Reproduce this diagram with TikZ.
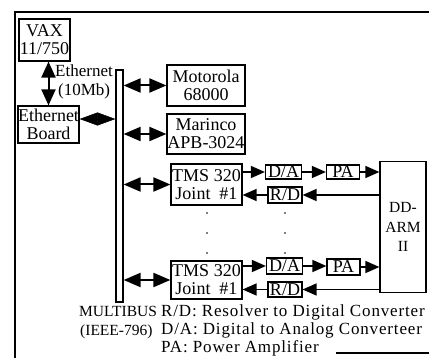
\documentclass[tikz,border=0pt]{standalone}
\usepackage{fontspec}
\setmainfont{Liberation Serif}
\usetikzlibrary{arrows.meta}
\begin{document}
\begin{tikzpicture}[x=1pt,y=-1pt,
  every node/.style={font=\fontsize{18}{18}\selectfont},
  box/.style={draw,line width=1.2pt,inner sep=0pt,align=center},
  big/.style={line width=2pt,{Triangle[length=17pt,width=14pt]}-{Triangle[length=17pt,width=14pt]}},
  vbig/.style={line width=2pt,{Triangle[length=16pt,width=14pt]}-{Triangle[length=16pt,width=14pt]}},
  dia/.style={line width=0.5pt,{Triangle[length=18pt,width=13pt]}-{Triangle[length=18pt,width=13pt]}},
  sa/.style={line width=1.4pt,-{Triangle[length=14pt,width=12pt]}},
  lbl/.style={inner sep=0pt,anchor=base west,font=\fontsize{17}{17}\selectfont\addfontfeature{LetterSpace=5}},
  dotc/.style={fill,circle,inner sep=0pt,minimum size=1.8pt}]
\useasboundingbox (0,0) rectangle (429,358);
% frame
\draw[line width=1.3pt] (429,12) -- (15,12) -- (15,358);
\draw[line width=1.3pt] (336,353) -- (429,353);
% nodes
\node[box,minimum width=51pt,minimum height=42pt] (vax) at (44.5,40) {VAX\\11/750};
\node[box,minimum width=61pt,minimum height=37pt] (eb) at (48.5,124.5) {Ethernet\\Board};
\node[draw,line width=1.2pt,inner sep=0pt,minimum width=7pt,minimum height=232pt] (bus) at (119.5,186) {};
\node[box,minimum width=78pt,minimum height=41pt] (mot) at (206,85.5) {Motorola\\68000};
\node[box,minimum width=78pt,minimum height=40pt] (mar) at (206,134) {Marinco\\APB-3024};
\node[box,minimum width=71pt,minimum height=41pt] (tms1) at (206.5,184.5) {TMS 320\\Joint\ \ \#1};
\node[box,minimum width=71pt,minimum height=38pt] (tms2) at (206.5,280) {TMS 320\\Joint\ \ \#1};
\node[box,minimum width=36pt,minimum height=14pt] (da1) at (283.5,172) {D/A};
\node[box,minimum width=34pt,minimum height=16pt] (rd1) at (285,195) {R/D};
\node[box,minimum width=33pt,minimum height=14pt] (pa1) at (343,172) {PA};
\node[box,minimum width=36pt,minimum height=16pt] (da2) at (284.5,266) {D/A};
\node[box,minimum width=34pt,minimum height=15pt] (rd2) at (285,289.5) {R/D};
\node[box,minimum width=33pt,minimum height=16pt] (pa2) at (343.5,267) {PA};
\node[box,minimum width=46pt,minimum height=131pt,font=\fontsize{15.5}{19.5}\selectfont] (arm) at (403,227) {DD-\\ARM\\II};
% labels
\node[lbl,font=\fontsize{17}{17}\selectfont] (eth) at (55,77) {Ethernet};
\node[lbl,font=\fontsize{17}{17}\selectfont] (mb) at (58,96) {(10Mb)};
\node[lbl,font=\fontsize{15.5}{17}\selectfont] (l1) at (79,317) {MULTIBUS};
\node[lbl,font=\fontsize{15.5}{17}\selectfont] (l2) at (80,336) {(IEEE-796)};
\node[lbl] (l3) at (161,317) {R/D: Resolver to Digital Converter};
\node[lbl] (l4) at (161,335) {D/A: Digital to Analog Converteer};
\node[lbl] (l5) at (161,353) {PA: Power Amplifier};
% connectors
\draw[vbig] (eb.north |- vax.south) -- (eb.north);
\draw[dia] ([yshift=5.5pt]eb.east) -- ([yshift=5.5pt]eb.east -| bus.west);
\draw[big] (bus.east |- mot.west) -- (mot.west);
\draw[big] (bus.east |- mar.west) -- (mar.west);
\draw[big] (bus.east |- tms1.west) -- (tms1.west);
\draw[big] (bus.east |- tms2.west) -- (tms2.west);
\foreach \t/\d/\r/\p in {tms1/da1/rd1/pa1, tms2/da2/rd2/pa2}{
  \draw[sa] (\t.east |- \d.west) -- (\d.west);
  \draw[sa] (\d.east) -- (\p.west |- \d.east);
  \draw[sa] (\p.east) -- (arm.west |- \p.east);
  \draw[sa] (arm.west |- \r.east) -- (\r.east);
  \draw[sa] (\r.west) -- (\t.east |- \r.west);
}
% dots
\foreach \x in {207,285}{\foreach \y in {213,233,253}{\node[dotc] at (\x,\y) {};}}
\end{tikzpicture}
\end{document}
